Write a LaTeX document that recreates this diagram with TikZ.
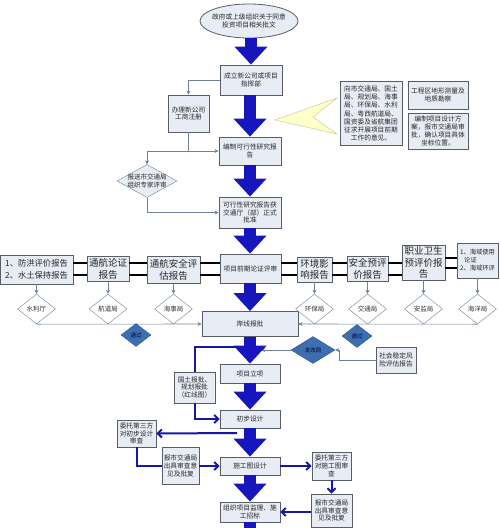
\documentclass[tikz,border=0pt]{standalone}
\usepackage{fontspec}
\newfontfamily\cjk{Noto Sans CJK SC}
\usepackage{tikz}
\usetikzlibrary{calc, arrows.meta, shapes.geometric}
\definecolor{trunkBlue}{RGB}{22, 22, 188}
\definecolor{feedBlue}{RGB}{20, 24, 170}
\definecolor{boxFill}{RGB}{232, 236, 244}
\definecolor{boxLine}{RGB}{88, 94, 104}
\definecolor{linkGray}{RGB}{112, 130, 152}
\definecolor{passBlue}{RGB}{60, 110, 176}
\definecolor{noteYellow}{RGB}{255, 255, 204}
\definecolor{noteLine}{RGB}{196, 196, 130}

\begin{document}
\begin{tikzpicture}[x=1pt, y=-1pt,
  box/.style={draw=boxLine, fill=boxFill, line width=0.8pt, inner sep=1pt, align=center,
    text=black!85, font=\cjk\fontsize{6.7}{7.9}\selectfont},
  bigbox/.style={box, font=\cjk\fontsize{9.5}{11.5}\selectfont},
  agency/.style={diamond, draw=linkGray, fill=white, inner sep=0pt, minimum width=38,
    minimum height=30, font=\cjk\fontsize{6.5}{7.6}\selectfont, text=black!80},
  okdia/.style={diamond, draw=passBlue!80!black, fill=passBlue, inner sep=0pt,
    font=\cjk\fontsize{5.5}{6.5}\selectfont, text=blue!20!black},
  trunk/.style={line width=12pt, trunkBlue, -{Triangle[width=32pt, length=18pt]}},
  link/.style={linkGray, line width=0.6pt, -{Stealth[length=4pt, width=4pt]}},
  feed/.style={feedBlue, line width=2pt},
  feedarrow/.style={feed, -{Straight Barb[length=4pt, width=8pt]}},
  pair/.style={black, line width=1.6pt}]
  \useasboundingbox (0,0) rectangle (500,528);

  % main column
  \node[ellipse, draw=boxLine, fill=boxFill, line width=0.8pt, minimum width=98, minimum height=34,
    inner sep=0pt, label={[font=\cjk\fontsize{6.7}{8}\selectfont, align=center, text=black!85]center:政府或上级组织关于同意\\投资项目相关批文}]
    (ell) at (249,21) {};
  \node[box, minimum width=62, minimum height=30] (setup) at (251,80) {成立新公司或项目\\指挥部};
  \node[box, minimum width=41, minimum height=37] (reg) at (188.5,113.5) {办理新公司\\工商注册};
  \node[box, minimum width=62, minimum height=28] (fsr) at (250,151) {编制可行性研究报\\告};
  \node[diamond, draw=linkGray, fill=boxFill, minimum width=60, minimum height=33, inner sep=0pt,
    label={[font=\cjk\fontsize{6.5}{7.8}\selectfont, align=center, text=black!85]center:报送市交通局\\组织专家评审}]
    (expert) at (147,181) {};
  \node[box, minimum width=62, minimum height=31] (appr) at (250,212.5) {可行性研究报告获\\交通厅（部）正式\\批准};

  % notes on the right
  \fill[noteYellow] (337,98) -- (275,120) -- (337,134) -- (313,117) -- cycle;
  \draw[noteLine] (337,98) -- (275,120) -- (337,134) -- (313,117) -- cycle;
  \node[box, font=\cjk\fontsize{6.7}{8.3}\selectfont, minimum width=62, minimum height=64] (consult) at (371,113.5)
    {向市交通局、国土\\局、规划局、海事\\局、环保局、水利\\局、粤西航道局、\\国资委及省航集团\\征求开展项目前期\\工作的意见。};
  \node[box, minimum width=60, minimum height=28] (survey) at (438,95) {工程区地形测量及\\地质勘察};
  \node[box, minimum width=60, minimum height=36] (design) at (438,131) {编制项目设计方\\案，报市交通局审\\批，确认项目具体\\坐标位置。};

  % report row
  \node[box, font=\cjk\fontsize{8.3}{12}\selectfont, minimum width=73, minimum height=29] (flood) at (36.5,269.5) {1、防洪评价报告\\2、水土保持报告};
  \node[bigbox, minimum width=42, minimum height=25] (navig) at (108,269) {通航论证\\报告};
  \node[bigbox, minimum width=53, minimum height=27] (safenav) at (173.5,270) {通航安全评\\估报告};
  \node[box, minimum width=61, minimum height=29] (review) at (250.5,268.5) {项目前期论证评审};
  \node[bigbox, minimum width=35, minimum height=25] (env) at (314.5,269.5) {环境影\\响报告};
  \node[bigbox, minimum width=41, minimum height=25] (safe) at (367.5,269) {安全预评\\价报告};
  \node[bigbox, minimum width=43, minimum height=35] (occ) at (423.5,262.5) {职业卫生\\预评价报\\告};
  \node[box, font=\cjk\fontsize{6.3}{8}\selectfont, align=left, minimum width=41, minimum height=35] (sea) at (477.5,260.5) {1、海域使用\\\ \ \ 论证\\2、海域环评};

  \foreach \a/\b in {flood/navig, navig/safenav, safenav/review, review/env, env/safe, safe/occ} {
    \draw[pair] (\a.east |- 0,263) -- (\b.west |- 0,263);
    \draw[pair] (\a.east |- 0,275) -- (\b.west |- 0,275);
  }
  \draw[pair] (occ.east |- 0,258) -- (sea.west |- 0,258);
  \draw[pair] (occ.east |- 0,268) -- (sea.west |- 0,268);

  \node[box, minimum width=96, minimum height=25] (bank) at (250,324) {岸线报批};

  \foreach \src/\nm/\txt in {flood/d1/水利厅, navig/d2/航道局, safenav/d3/海事局, env/d4/环保局,
      safe/d5/交通局, occ/d6/安监局, sea/d7/海洋局} {
    \node[agency] (\nm) at (\src.south |- 0,309) {\txt};
    \draw[link] (\src.south) -- (\nm.north);
  }
  \draw[link] (d1.south) -- (bank.west);
  \draw[link] (d7.south) -- (bank.east);

  \node[okdia, minimum width=30, minimum height=23] (pass1) at (136,335) {通过};
  \node[okdia, minimum width=30, minimum height=23] (pass2) at (357,336) {通过};
  \node[okdia, minimum width=44, minimum height=27] (dev) at (313,350) {发改局};
  \node[box, minimum width=40, minimum height=26] (social) at (396,360) {社会稳定风\\险评估报告};
  \coordinate (devin) at (261,350);
  \draw[link] (social.west) -| ([xshift=4pt]dev.east) -- (dev.east);
  \draw[link] (dev.west) -- (devin);

  % construction stage
  \node[box, minimum width=60, minimum height=19] (proj) at (250,373.5) {项目立项};
  \node[box, minimum width=41, minimum height=31] (land) at (194.5,387.5) {国土报批、\\规划报批\\（红线图）};
  \node[box, minimum width=60, minimum height=18] (prelim) at (250,419) {初步设计};
  \node[box, minimum width=39, minimum height=27] (comm1) at (136.5,433.5) {委托第三方\\对初步设计\\审查};
  \node[box, minimum width=37, minimum height=37] (report1) at (180.5,466) {报市交通局\\出具审查意\\见及批复};
  \node[box, minimum width=60, minimum height=18] (draw) at (250,466) {施工图设计};
  \node[box, minimum width=39, minimum height=28] (comm2) at (331.5,466) {委托第三方\\对施工图审\\查};
  \node[box, minimum width=41, minimum height=33] (report2) at (331.5,510.5) {报市交通局\\出具审查意\\见及批复};
  \node[box, minimum width=60, minimum height=20] (org) at (250,512) {组织项目监理、施\\工招标};
  \coordinate (landin) at (246,347);
  \coordinate (c1out) at (237,433);
  \coordinate (tail) at (250,540);

  \draw[feed] (land.north) |- (landin);
  \draw[feedarrow] (land.south) |- (prelim.west);
  \draw[feedarrow] (c1out) -- (comm1.east);
  \draw[feed] (comm1.south) |- (report1.west);
  \draw[feedarrow] (report1.east) -- (draw.west);
  \draw[feedarrow] (draw.east) -- (comm2.west);
  \draw[feedarrow] (comm2.south) -- (report2.north);
  \draw[feedarrow] (report2.west |- org.east) -- (org.east);

  % side branches
  \draw[link] (setup.west) -| (reg.north);
  \draw[link] (reg.south) |- (fsr.west);
  \draw[link] (reg.south |- fsr.west) -| (expert.north);
  \draw[link] (expert.south) |- (appr.west);

  % thick blue arrows
  \draw[trunk] (setup.north |- ell.south) -- (setup.north);
  \draw[trunk] (fsr.north |- setup.south) -- (fsr.north);
  \draw[trunk] (fsr.south) -- (appr.north);
  \draw[trunk] (appr.south) -- (appr.south |- review.north);
  \draw[trunk] (bank.north |- review.south) -- (bank.north);
  \draw[trunk] (bank.south) -- (proj.north);
  \draw[trunk] (proj.south) -- (prelim.north);
  \draw[trunk] (prelim.south) -- (draw.north);
  \draw[trunk] (draw.south) -- (org.north);
  \draw[line width=12pt, trunkBlue] (org.south) -- (tail);
\end{tikzpicture}
\end{document}
